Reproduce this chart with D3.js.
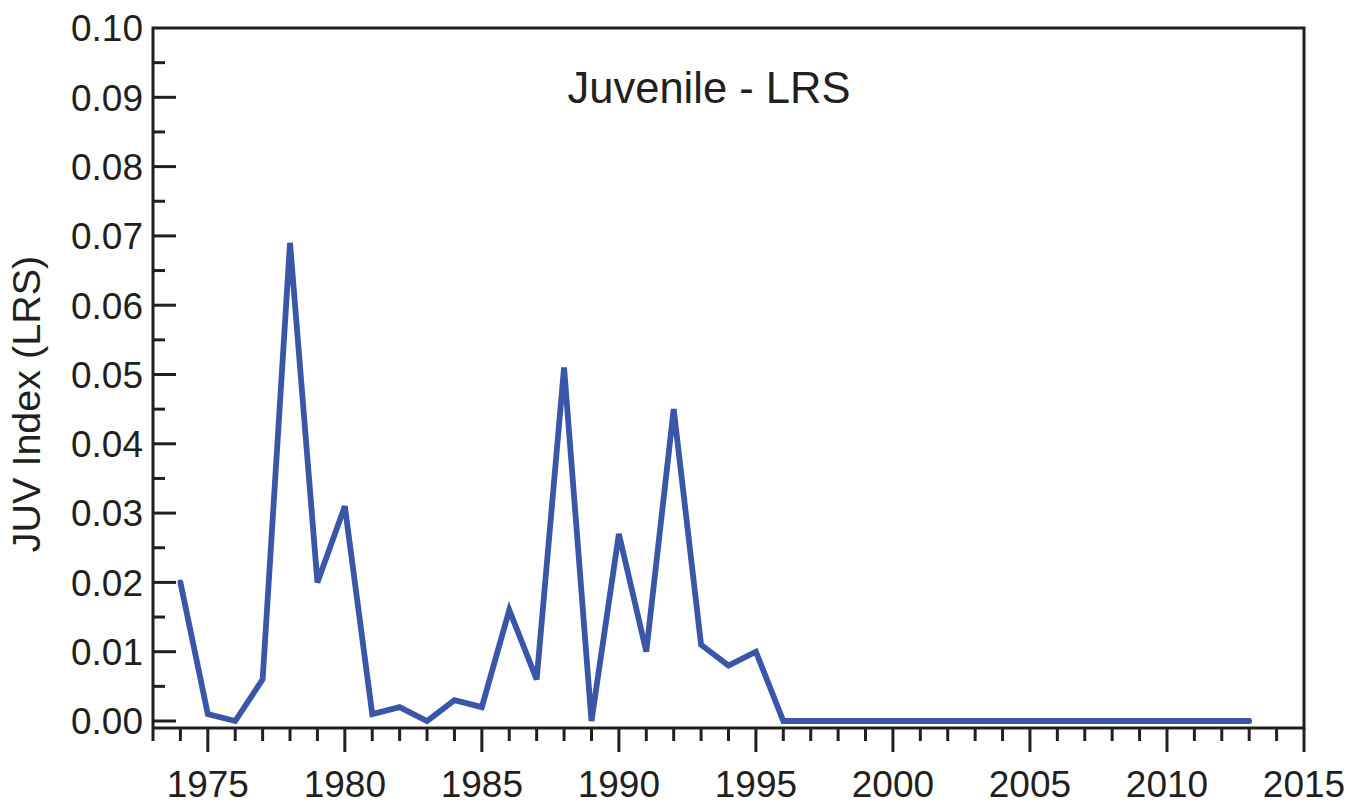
<!DOCTYPE html>
<html><head><meta charset="utf-8">
<script src="https://cdn.jsdelivr.net/npm/d3@7"></script>
<style>body{margin:0;background:#fff}svg{display:block}text{font-family:"Liberation Sans",Arial,sans-serif;fill:#231f20}</style>
</head><body>
<svg id="c" width="1364" height="804"></svg>
<script>
const years = d3.range(1974, 2014);
const values = [0.020,0.001,0.000,0.006,0.069,0.020,0.031,0.001,0.002,0.000,
  0.003,0.002,0.016,0.006,0.051,0.000,0.027,0.010,0.045,0.011,
  0.008,0.010,0,0,0,0,0,0,0,0,
  0,0,0,0,0,0,0,0,0,0];
const xTickLabels = [1975,1980,1985,1990,1995,2000,2005,2010,2015];
const yTickLabels = [0,0.01,0.02,0.03,0.04,0.05,0.06,0.07,0.08,0.09,0.10];
const title = "Juvenile - LRS";
const yTitle = "JUV Index (LRS)";

const svg = d3.select("#c");
const L = 153, R = 1304, T = 28, B = 728;
const x = d3.scaleLinear().domain([1973, 2015]).range([L, R]);
const y = d3.scaleLinear().domain([0, 0.10]).range([721, T]);
const ink = "#231f20";

// frame
svg.append("path").attr("d", `M${L},${B}V${T}H${R}V${B}H${L}`)
  .attr("fill","none").attr("stroke",ink).attr("stroke-width",3);

// x ticks (outward)
const xg = svg.append("g");
d3.range(1973, 2016).forEach(yr => {
  const major = yr % 5 === 0;
  xg.append("line").attr("x1", x(yr)).attr("x2", x(yr))
    .attr("y1", B).attr("y2", B + (major ? 24 : 13))
    .attr("stroke", ink).attr("stroke-width", 3);
});
xTickLabels.forEach(v => {
  xg.append("text").attr("x", x(v)).attr("y", 797).attr("text-anchor","middle")
    .attr("font-size", 37).text(v);
});

// y ticks (inward)
const yg = svg.append("g");
d3.range(0, 20).forEach(i => {
  const v = i * 0.005;
  const major = i % 2 === 0;
  yg.append("line").attr("x1", L).attr("x2", L + (major ? 23 : 12))
    .attr("y1", y(v)).attr("y2", y(v)).attr("stroke", ink).attr("stroke-width", 3);
});
yTickLabels.forEach(v => {
  yg.append("text").attr("x", 143).attr("y", y(v)).attr("dy", "0.36em")
    .attr("text-anchor","end").attr("font-size", 37).text(d3.format(".2f")(v));
});

// line
svg.append("path").datum(years.map((yr,i)=>[yr, values[i]]))
  .attr("d", d3.line().x(d=>x(d[0])).y(d=>y(d[1])))
  .attr("fill","none").attr("stroke","#3a56a8").attr("stroke-width",5.8)
  .attr("stroke-linejoin","miter").attr("stroke-linecap","round");

svg.append("text").attr("x", 709).attr("y", 103).attr("text-anchor","middle")
  .attr("font-size", 43.5).text(title);
svg.append("text").attr("transform","translate(40,404) rotate(-90)")
  .attr("text-anchor","middle").attr("font-size", 39.5).text(yTitle);
</script>
</body></html>
